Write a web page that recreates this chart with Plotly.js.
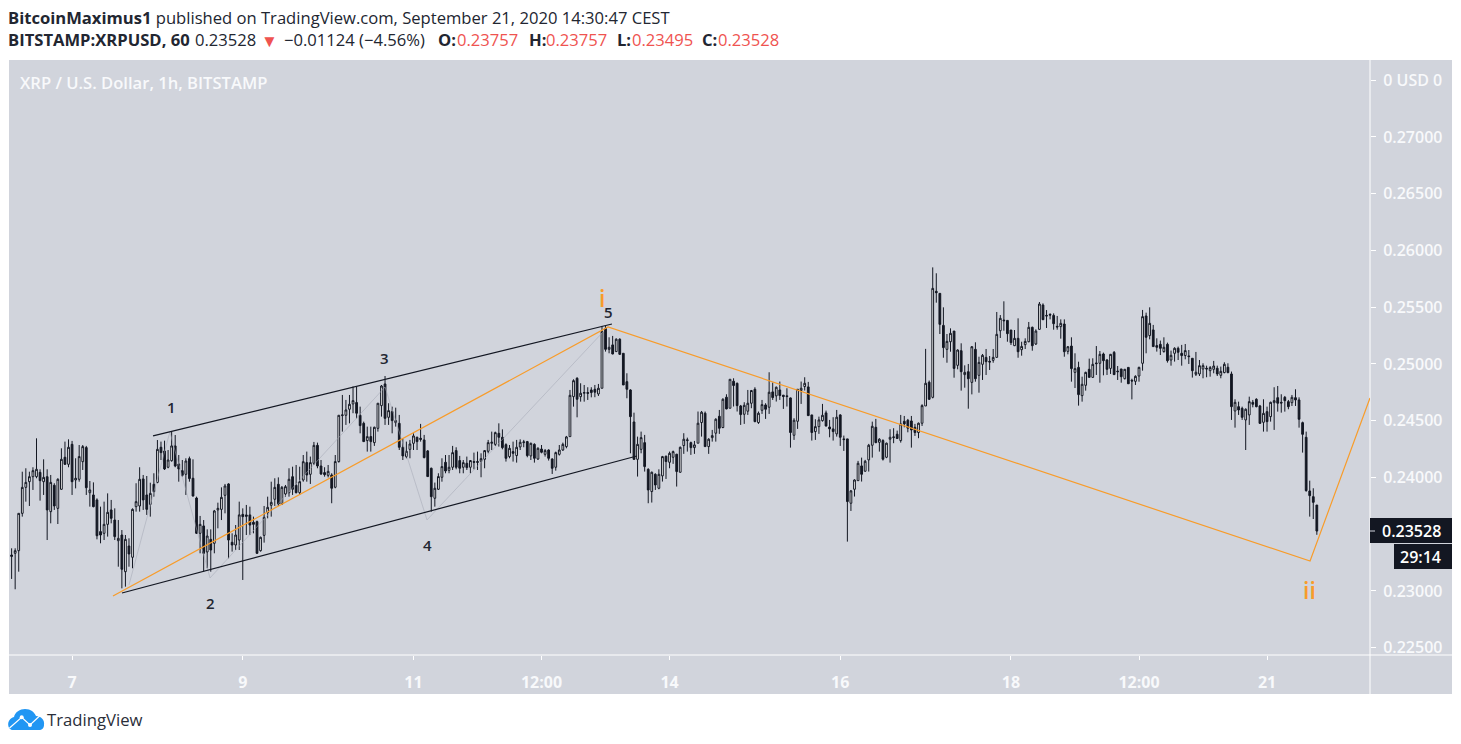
<!DOCTYPE html>
<html><head><meta charset="utf-8">
<script src="https://cdn.plot.ly/plotly-3.0.1.min.js"></script>
<style>html,body{margin:0;padding:0;background:#fff}#c{width:1461px;height:744px}</style></head>
<body><div id="c"></div>
<script>
var openP=[
.23317,.23332,.23355,.23684,.23913,.23963,.24007,.24007,.24045,.23963,
.24007,.23699,.23931,.23728,.23896,.24178,.24116,.24292,.23978,.23984,
.24139,.24263,.23866,.23846,.23802,.23523,.23508,.23587,.23714,.23625,
.23443,.23493,.23170,.23396,.23297,.23743,.23749,.23987,.23846,.23763,
.23940,.23957,.24266,.24233,.24090,.24148,.24278,.24119,.24060,.24028,
.24166,.23993,.23819,.23508,.23573,.23344,.23455,.23420,.23714,.23719,
.23843,.23943,.23429,.23405,.23449,.23675,.23670,.23670,.23605,.23611,
.23355,.23490,.23690,.23755,.23808,.23940,.23766,.23855,.23866,.24007,
.23931,.23866,.23978,.24131,.24028,.24125,.24283,.24101,.24043,.24019,
.24022,.23914,.24140,.24545,.24548,.24601,.24648,.24660,.24548,.24477,
.24325,.24360,.24307,.24433,.24633,.24824,.24530,.24580,.24483,.24477,
.24266,.24184,.24248,.24301,.24354,.24345,.24331,.24234,.24081,.23817,
.23896,.24002,.24134,.24063,.24090,.24237,.24149,.24090,.24125,.24090,
.24140,.24140,.24143,.24160,.24231,.24301,.24292,.24389,.24354,.24289,
.24184,.24228,.24193,.24269,.24307,.24316,.24190,.24292,.24163,.24251,
.24204,.24242,.24163,.24090,.24204,.24242,.24272,.24360,.24712,.24874,
.24712,.24742,.24748,.24771,.24777,.24736,.24786,.25314,.25129,.25168,
.25109,.25218,.25094,.24844,.24771,.24489,.24160,.24248,.24307,.24072,
.23876,.24028,.23905,.24014,.24187,.24134,.24178,.24205,.24046,.24281,
.24325,.24307,.24263,.24302,.24484,.24566,.24272,.24351,.24390,.24539,
.24440,.24707,.24610,.24848,.24830,.24630,.24557,.24584,.24654,.24777,
.24484,.24592,.24639,.24619,.24754,.24719,.24771,.24725,.24719,.24701,
.24372,.24495,.24766,.24801,.24798,.24551,.24404,.24448,.24501,.24569,
.24445,.24428,.24384,.24551,.24340,.24340,.23773,.23896,.23972,.24102,
.24055,.24155,.24284,.24442,.24310,.24325,.24178,.24337,.24351,.24381,
.24325,.24495,.24504,.24498,.24442,.24396,.24478,.24630,.24839,.24706,
.25640,.25622,.25340,.25129,.25196,.25290,.24988,.25117,.24906,.24932,
.24838,.25129,.24900,.24997,.25058,.25023,.25032,.25058,.25293,.25387,
.25384,.25299,.25161,.25226,.25126,.25170,.25196,.25323,.25176,.25305,
.25519,.25428,.25437,.25428,.25332,.25329,.25352,.25111,.25158,.24926,
.24970,.24721,.24812,.24953,.24882,.25009,.25006,.25088,.25035,.24961,
.25102,.24938,.24956,.24870,.24970,.24856,.24847,.24894,.25006,.25423,
.25250,.25300,.25162,.25173,.25109,.25173,.25035,.25094,.25138,.25094,
.25074,.25071,.25050,.24909,.24912,.24956,.24962,.24941,.24953,.24962,
.24900,.24924,.24971,.24912,.24586,.24624,.24609,.24507,.24551,.24662,
.24689,.24630,.24486,.24580,.24536,.24659,.24703,.24662,.24706,.24668,
.24659,.24703,.24683,.24483,.24354,.23881,.23831,.23757];
var highP=[
.23376,.23376,.23684,.24051,.24081,.24051,.24090,.24345,.24072,.24160,
.24072,.24022,.23949,.23993,.24257,.24316,.24336,.24322,.24169,.24286,
.24286,.24278,.23969,.23957,.23816,.23743,.23787,.23860,.23802,.23728,
.23625,.23537,.23493,.23464,.23728,.23949,.24090,.24022,.24013,.23954,
.24037,.24330,.24316,.24324,.24242,.24404,.24374,.24198,.24154,.24169,
.24184,.24160,.23831,.23661,.23625,.23543,.23543,.23714,.23778,.23913,
.23943,.23949,.23508,.23581,.23787,.23728,.23758,.23743,.23655,.23620,
.23479,.23749,.23831,.23963,.23993,.24001,.23925,.23934,.24081,.24095,
.24110,.24095,.24198,.24228,.24184,.24313,.24307,.24154,.24090,.24110,
.24037,.24198,.24548,.24727,.24683,.24727,.24801,.24801,.24624,.24492,
.24448,.24448,.24448,.24654,.24815,.24894,.24654,.24624,.24615,.24551,
.24345,.24316,.24331,.24389,.24360,.24472,.24375,.24242,.24087,.23955,
.24037,.24169,.24198,.24198,.24278,.24266,.24190,.24154,.24184,.24154,
.24219,.24228,.24213,.24242,.24331,.24404,.24404,.24477,.24424,.24301,
.24286,.24316,.24331,.24336,.24331,.24322,.24307,.24301,.24266,.24286,
.24251,.24248,.24169,.24228,.24286,.24307,.24366,.24771,.24865,.24883,
.24830,.24815,.24795,.24795,.24815,.24824,.25335,.25335,.25235,.25247,
.25226,.25226,.25094,.24918,.24777,.24571,.24360,.24404,.24375,.24081,
.24052,.24037,.24072,.24190,.24193,.24228,.24237,.24208,.24272,.24390,
.24351,.24316,.24322,.24581,.24586,.24581,.24346,.24419,.24522,.24595,
.24698,.24733,.24865,.24874,.24836,.24639,.24663,.24771,.24771,.24795,
.24581,.24683,.24654,.24927,.24836,.24801,.24845,.24727,.24786,.24704,
.24522,.24777,.24845,.24883,.24842,.24551,.24513,.24536,.24648,.24589,
.24507,.24531,.24595,.24557,.24369,.24340,.23890,.23984,.24146,.24175,
.24155,.24296,.24492,.24516,.24346,.24337,.24307,.24425,.24434,.24413,
.24551,.24542,.24516,.24542,.24472,.24484,.24645,.25133,.24854,.25851,
.25799,.25622,.25499,.25264,.25314,.25290,.25129,.25182,.24988,.25000,
.25158,.25191,.25064,.25088,.25132,.25070,.25132,.25458,.25431,.25552,
.25387,.25299,.25299,.25402,.25196,.25226,.25370,.25329,.25305,.25546,
.25534,.25475,.25446,.25446,.25423,.25393,.25393,.25158,.25235,.25094,
.25020,.24888,.24932,.25047,.25050,.25158,.25114,.25100,.25044,.25088,
.25114,.24982,.24956,.24956,.24970,.24870,.24900,.24976,.25476,.25452,
.25499,.25344,.25226,.25206,.25235,.25188,.25118,.25147,.25153,.25168,
.25176,.25123,.25050,.25106,.25035,.25006,.24985,.24982,.25027,.24985,
.24977,.25015,.25006,.24933,.24689,.24668,.24624,.24609,.24712,.24683,
.24698,.24639,.24689,.24624,.24668,.24795,.24806,.24733,.24718,.24683,
.24727,.24777,.24706,.24492,.24404,.23972,.23905,.23757];
var lowP=[
.23106,.23015,.23170,.23655,.23787,.23749,.23890,.23993,.23796,.23846,
.23449,.23596,.23714,.23590,.23890,.24110,.24090,.23846,.23904,.23963,
.24066,.23846,.23743,.23737,.23455,.23420,.23449,.23479,.23596,.23449,
.23214,.23023,.23038,.23214,.23200,.23699,.23699,.23714,.23670,.23655,
.23831,.23949,.24154,.24066,.24081,.24139,.24090,.23963,.24007,.23846,
.23963,.23831,.23502,.23332,.23170,.23200,.23170,.23332,.23552,.23625,
.23684,.23288,.23347,.23361,.23361,.23097,.23493,.23493,.23508,.23326,
.23347,.23426,.23640,.23655,.23749,.23749,.23758,.23831,.23831,.23846,
.23860,.23846,.23963,.23963,.23943,.24110,.24081,.24022,.24007,.24001,
.23773,.23905,.24131,.24404,.24463,.24477,.24566,.24521,.24389,.24316,
.24228,.24228,.24278,.24404,.24536,.24463,.24463,.24389,.24448,.24242,
.24154,.24169,.24169,.24242,.24242,.24316,.24169,.24008,.23699,.23743,
.23890,.23963,.24037,.24037,.24066,.24072,.24037,.24037,.24066,.24037,
.24072,.24066,.24002,.24081,.24213,.24242,.24278,.24272,.24248,.24140,
.24169,.24140,.24131,.24242,.24266,.24178,.24154,.24131,.24154,.24213,
.24184,.24149,.24031,.24060,.24193,.24234,.24257,.24360,.24624,.24530,
.24668,.24668,.24683,.24706,.24707,.24718,.24786,.25109,.25094,.25085,
.25109,.25079,.24815,.24698,.24213,.24154,.24008,.24213,.24052,.23773,
.23779,.23890,.23896,.23964,.23987,.24081,.24120,.23920,.24043,.24208,
.24228,.24199,.24208,.24302,.24360,.24272,.24208,.24316,.24316,.24384,
.24434,.24601,.24610,.24625,.24581,.24463,.24472,.24551,.24610,.24487,
.24472,.24560,.24516,.24560,.24683,.24669,.24683,.24604,.24625,.24263,
.24331,.24428,.24648,.24766,.24542,.24325,.24331,.24384,.24492,.24448,
.24354,.24325,.24360,.24278,.24234,.23435,.23705,.23832,.23970,.23964,
.24052,.24052,.24175,.24302,.24228,.24149,.24170,.24131,.24302,.24340,
.24307,.24442,.24398,.24263,.24366,.24346,.24454,.24630,.24683,.24697,
.25540,.25264,.25055,.25011,.25108,.24879,.24953,.24765,.24791,.24606,
.24732,.24844,.24747,.24859,.24903,.24947,.25011,.25058,.25229,.25293,
.25196,.25167,.25158,.25055,.25073,.25132,.25191,.25117,.25167,.25302,
.25387,.25317,.25393,.25302,.25302,.25223,.25064,.25085,.24844,.24788,
.24633,.24668,.24765,.24882,.24879,.24903,.24835,.24900,.24903,.24912,
.24903,.24859,.24835,.24864,.24823,.24688,.24815,.24844,.24941,.25094,
.25217,.25153,.25109,.25079,.25100,.25012,.24985,.25021,.25035,.24985,
.25041,.25000,.24880,.24894,.24894,.24874,.24883,.24888,.24918,.24894,
.24874,.24918,.24918,.24507,.24439,.24551,.24507,.24242,.24463,.24618,
.24618,.24471,.24404,.24404,.24492,.24419,.24580,.24571,.24580,.24601,
.24630,.24630,.24439,.24219,.23875,.23655,.23634,.23495];
var closeP=[
.23305,.23355,.23684,.23913,.23957,.24007,.24060,.24072,.23972,.24001,
.23714,.23957,.23749,.23984,.24160,.24116,.24266,.23963,.23993,.24184,
.24272,.23910,.23890,.23743,.23487,.23493,.23587,.23693,.23640,.23479,
.23464,.23191,.23455,.23326,.23719,.23787,.23984,.23802,.23719,.23860,
.23875,.24248,.24219,.24075,.24154,.24278,.24101,.24075,.24019,.24145,
.23990,.23837,.23508,.23587,.23332,.23484,.23361,.23705,.23728,.23825,
.23925,.23449,.23405,.23493,.23670,.23655,.23658,.23581,.23587,.23332,
.23473,.23649,.23737,.23781,.23913,.23766,.23913,.23919,.23984,.23896,
.23866,.23963,.24139,.24022,.24131,.24283,.24101,.24031,.24025,.24054,
.23905,.24140,.24548,.24551,.24595,.24645,.24677,.24566,.24457,.24316,
.24360,.24316,.24442,.24654,.24806,.24521,.24589,.24501,.24501,.24266,
.24190,.24231,.24295,.24366,.24316,.24336,.24175,.24008,.23831,.23905,
.24008,.24096,.24057,.24090,.24219,.24090,.24081,.24131,.24087,.24149,
.24134,.24134,.24166,.24237,.24307,.24310,.24395,.24354,.24263,.24169,
.24257,.24213,.24266,.24310,.24313,.24193,.24301,.24169,.24257,.24222,
.24237,.24169,.24081,.24219,.24242,.24292,.24357,.24724,.24853,.24689,
.24742,.24748,.24742,.24748,.24751,.24786,.25285,.25129,.25147,.25088,
.25218,.25085,.24815,.24777,.24536,.24160,.24292,.24351,.24096,.23890,
.24046,.23934,.24028,.24184,.24140,.24213,.24228,.24052,.24266,.24337,
.24331,.24263,.24287,.24478,.24575,.24272,.24337,.24369,.24513,.24434,
.24689,.24604,.24865,.24810,.24633,.24554,.24636,.24654,.24766,.24492,
.24566,.24642,.24601,.24751,.24704,.24795,.24722,.24713,.24713,.24396,
.24504,.24777,.24786,.24830,.24545,.24396,.24448,.24507,.24548,.24454,
.24428,.24404,.24531,.24354,.24334,.23788,.23882,.23978,.24125,.24028,
.24143,.24284,.24451,.24307,.24337,.24161,.24302,.24354,.24357,.24343,
.24472,.24472,.24434,.24419,.24396,.24478,.24633,.24830,.24689,.25666,
.25628,.25349,.25144,.25199,.25270,.24961,.25123,.24932,.24926,.24870,
.25152,.24870,.25014,.25076,.25020,.25017,.25058,.25261,.25402,.25381,
.25267,.25188,.25226,.25108,.25155,.25199,.25323,.25161,.25290,.25528,
.25390,.25423,.25431,.25355,.25326,.25358,.25108,.25152,.24959,.24959,
.24730,.24821,.24926,.24882,.24997,.25003,.25085,.25029,.24953,.25085,
.24906,.24932,.24888,.24953,.24826,.24850,.24891,.24970,.25417,.25235,
.25358,.25153,.25147,.25138,.25147,.25029,.25076,.25138,.25103,.25074,
.25118,.25065,.24941,.24927,.24985,.24985,.24956,.24968,.24982,.24912,
.24935,.24997,.24924,.24624,.24662,.24595,.24530,.24601,.24668,.24645,
.24624,.24477,.24565,.24492,.24662,.24677,.24654,.24656,.24677,.24624,
.24706,.24683,.24513,.24380,.23884,.23840,.23781,.23528];

var firstBar=Date.UTC(2020,8,6,7);
var times=openP.map(function(_,i){return new Date(firstBar+i*3600000).toISOString().slice(0,16).replace('T',' ');});

var xTickVals=['2020-09-07','2020-09-09','2020-09-11','2020-09-12 12:00','2020-09-14','2020-09-16','2020-09-18','2020-09-19 12:00','2020-09-21'];
var xTickText=['7','9','11','12:00','14','16','18','12:00','21'];
var yTickVals=[.225,.23,.235,.24,.245,.25,.255,.26,.265,.27,.275];
var yTickText=['0.22500','0.23000','','0.24000','0.24500','0.25000','0.25500','0.26000','0.26500','0.27000','0 USD 0'];

var channelTopX=['2020-09-07 22:46','2020-09-13 07:48'], channelTopY=[.24366,.25352];
var channelLowX=['2020-09-07 14:02','2020-09-13 14:48'], channelLowY=[.22982,.24189];
var waveX=['2020-09-07 11:30','2020-09-13 06:42','2020-09-21 12:06','2020-09-22 04:57'], waveY=[.22956,.25326,.23264,.24700];
var subX=['2020-09-07 16:00','2020-09-08 03:30','2020-09-08 14:48','2020-09-10 16:00','2020-09-11 03:48','2020-09-13 05:18'];
var subY=[.23053,.24401,.23115,.24797,.23626,.25282];

var INK='#131722',PANEL='#d1d4dc',PALE='#f8f9fb',ORANGE='#f89c2a',RED='#ef5350',SANS='"Open Sans", sans-serif';
var W=1361,H=595,L=9,B=655;
function px(x){return (x-L)/W;}
function py(y){return (B-y)/H;}
function text(x,y,t,size,color,anchor,weight,fam){return {xref:'paper',yref:'paper',x:px(x),y:py(y),text:t,showarrow:false,xanchor:anchor||'left',yanchor:'middle',
  font:{family:fam||SANS,size:size,color:color,weight:weight||400},borderpad:0,borderwidth:0};}
function rect(x0,y0,x1,y1,fill,layer){return {type:'rect',xref:'paper',yref:'paper',x0:px(x0),x1:px(x1),y0:py(y0),y1:py(y1),fillcolor:fill,line:{width:0},layer:layer||'above'};}
function seg(x0,y0,x1,y1,c,w,layer){return {type:'line',xref:'paper',yref:'paper',x0:px(x0),x1:px(x1),y0:py(y0),y1:py(y1),line:{color:c,width:w||1},layer:layer||'above'};}
function pathOf(cmds,fill,lineC,lw){var s=cmds.map(function(c){var o=c[0];for(var i=1;i<c.length;i+=2){o+=' '+px(c[i])+' '+py(c[i+1]);}return o;}).join(' ');
  return {type:'path',xref:'paper',yref:'paper',path:s,fillcolor:fill,line:{color:lineC||'rgba(0,0,0,0)',width:lw||0},layer:'above'};}
function dot(x,y,r,c){return {type:'circle',xref:'paper',yref:'paper',x0:px(x-r),x1:px(x+r),y0:py(y+r),y1:py(y-r),fillcolor:c,line:{width:0},layer:'above'};}

var traces=[
 {type:'candlestick',x:times,open:openP,high:highP,low:lowP,close:closeP,whiskerwidth:0,hoverinfo:'skip',
  increasing:{line:{color:INK,width:1},fillcolor:'#ffffff'},decreasing:{line:{color:INK,width:1},fillcolor:INK}},
 {type:'scatter',mode:'lines',x:subX,y:subY,line:{color:'rgba(165,170,182,0.55)',width:1},hoverinfo:'skip'},
 {type:'scatter',mode:'lines',x:channelTopX,y:channelTopY,line:{color:INK,width:1.2},hoverinfo:'skip'},
 {type:'scatter',mode:'lines',x:channelLowX,y:channelLowY,line:{color:INK,width:1.2},hoverinfo:'skip'},
 {type:'scatter',mode:'lines',x:waveX,y:waveY,line:{color:ORANGE,width:1.2},hoverinfo:'skip',cliponaxis:true}
];

var hy1=17,hy2=40,HS=16.6,DK='#222631';
var annotations=[
 text(8,hy1,'<b>BitcoinMaximus1</b> published on TradingView.com, September 21, 2020 14:30:47 CEST',HS,DK),
 text(8,hy2,'<b>BITSTAMP:XRPUSD, 60</b>',HS,DK),
 text(195,hy2,'0.23528',HS,DK),
 text(261,41,'▼',17,RED),
 text(284,hy2,'−0.01124 (−4.56%)',HS,DK),
 text(438,hy2,'<b>O:</b>',HS,DK),text(457,hy2,'0.23757',HS,RED),
 text(529,hy2,'<b>H:</b>',HS,DK),text(546,hy2,'0.23757',HS,RED),
 text(617,hy2,'<b>L:</b>',HS,DK),text(632,hy2,'0.23495',HS,RED),
 text(702,hy2,'<b>C:</b>',HS,DK),text(718,hy2,'0.23528',HS,RED),
 text(20,83,'XRP / U.S. Dollar, 1h, BITSTAMP',16.6,PALE,'left',600),
 text(171,407,'1',15,DK,'center',600),
 text(210,603,'2',15,DK,'center',600),
 text(385,358,'3',15,DK,'center',600),
 text(427,545,'4',15,DK,'center',600),
 text(608,312,'5',15,DK,'center',600),
 text(602,298,'i',23,ORANGE,'center',600),
 text(1309,590,'ii',23,ORANGE,'center',600),
 text(1411,531,'0.23528',16,'#ffffff','center',600),
 text(1420,557,'29:14',16,'#ffffff','center',600),
 text(47,719,'TradingView',16.7,'#2a2e39')
];

var shapes=[
 rect(9,60,1452,694,PANEL,'below'),
 seg(9,655,1452,655,'#ffffff',1,'below'),
 seg(1370,60,1370,694,'#ffffff',1,'below'),
 rect(1370,518,1452,543,INK),
 rect(1394,544,1452,569,INK),
 seg(1370,531,1375,531,'#d1d4dc',1),
 pathOf([['M',13,730],['C',7,730,6,719,14,717],['C',15,712,20,709,25,709],['C',31,709,34,712,36,716],['C',41,716,45,720,44,725],['C',44,728,42,730,39,730],['Z']],'#2196f3'),
 pathOf([['M',9.5,728],['L',21.7,717.3],['L',30,725],['L',41.7,714]],'rgba(0,0,0,0)','#ffffff',1.2),
 dot(21.7,717.3,2,'#ffffff'),dot(30,725,2,'#ffffff')
];

var layout={width:1461,height:744,margin:{l:9,r:91,t:60,b:89,pad:0},paper_bgcolor:'#ffffff',plot_bgcolor:'rgba(0,0,0,0)',showlegend:false,
 xaxis:{type:'date',range:['2020-09-06 06:16','2020-09-22 04:57'],rangeslider:{visible:false},tickmode:'array',tickvals:xTickVals,ticktext:xTickText,
   showgrid:false,zeroline:false,showline:false,ticks:'outside',ticklen:4,tickcolor:'#ffffff',tickwidth:1,ticklabelstandoff:9,
   tickfont:{family:SANS,size:16,color:PALE,weight:700},fixedrange:true},
 yaxis:{side:'right',range:[.22436,.27678],tickmode:'array',tickvals:yTickVals,ticktext:yTickText,
   showgrid:false,zeroline:false,showline:false,ticks:'outside',ticklen:5,tickcolor:'#ffffff',tickwidth:1,ticklabelstandoff:4,
   tickfont:{family:SANS,size:16,color:PALE,weight:600},fixedrange:true},
 boxgap:0.3,shapes:shapes,annotations:annotations,hovermode:false};
Plotly.newPlot('c',traces,layout,{displayModeBar:false,staticPlot:true});
</script></body></html>
